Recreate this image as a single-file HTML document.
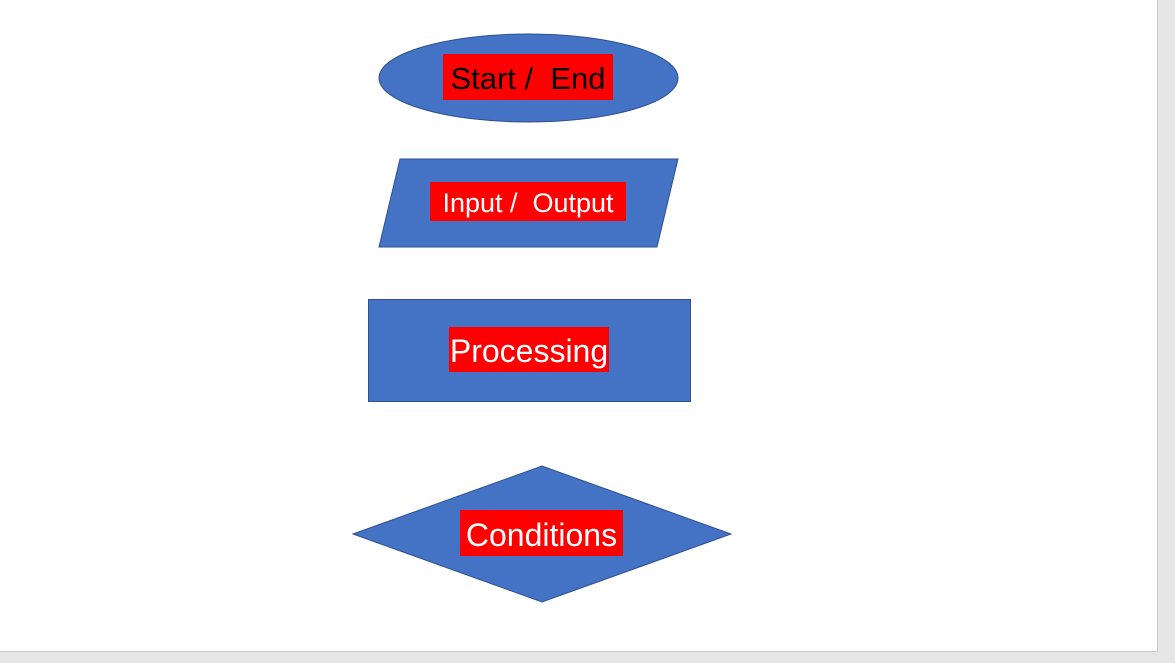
<!DOCTYPE html>
<html><head><meta charset="utf-8"><style>
html,body{margin:0;padding:0;}
body{width:1175px;height:663px;background:#e6e6e6;position:relative;overflow:hidden;font-family:"Liberation Sans",sans-serif;}
#page{position:absolute;left:0;top:0;width:1157px;height:651px;background:#fff;border-right:1px solid #c8c8c8;border-bottom:1px solid #c8c8c8;}
svg{position:absolute;left:0;top:0;}
.lbl{position:absolute;background:#f00;display:flex;align-items:center;justify-content:center;white-space:nowrap;color:#fff;box-sizing:border-box;padding-top:4px;}
</style></head><body>
<div id="page"></div>
<svg width="1175" height="663">
<g fill="#4472c4" stroke="#2f528f" stroke-width="1">
<ellipse cx="528.5" cy="78" rx="149.5" ry="44"/>
<polygon points="400,159 678,159 657,247 379,247"/>
<rect x="368.5" y="299.5" width="322" height="102"/>
<polygon points="353,534 542,466 731,534 542,602"/>
</g>
</svg>
<div class="lbl" style="left:443px;top:54px;width:170px;height:46px;color:#000;font-size:31px;">Start /&nbsp; End</div>
<div class="lbl" style="left:430px;top:182px;width:196px;height:39px;font-size:27px;">Input /&nbsp; Output</div>
<div class="lbl" style="left:449px;top:327px;width:160px;height:45px;font-size:32px;">Processing</div>
<div class="lbl" style="left:460px;top:510px;width:163px;height:46px;font-size:32px;">Conditions</div>
</body></html>
